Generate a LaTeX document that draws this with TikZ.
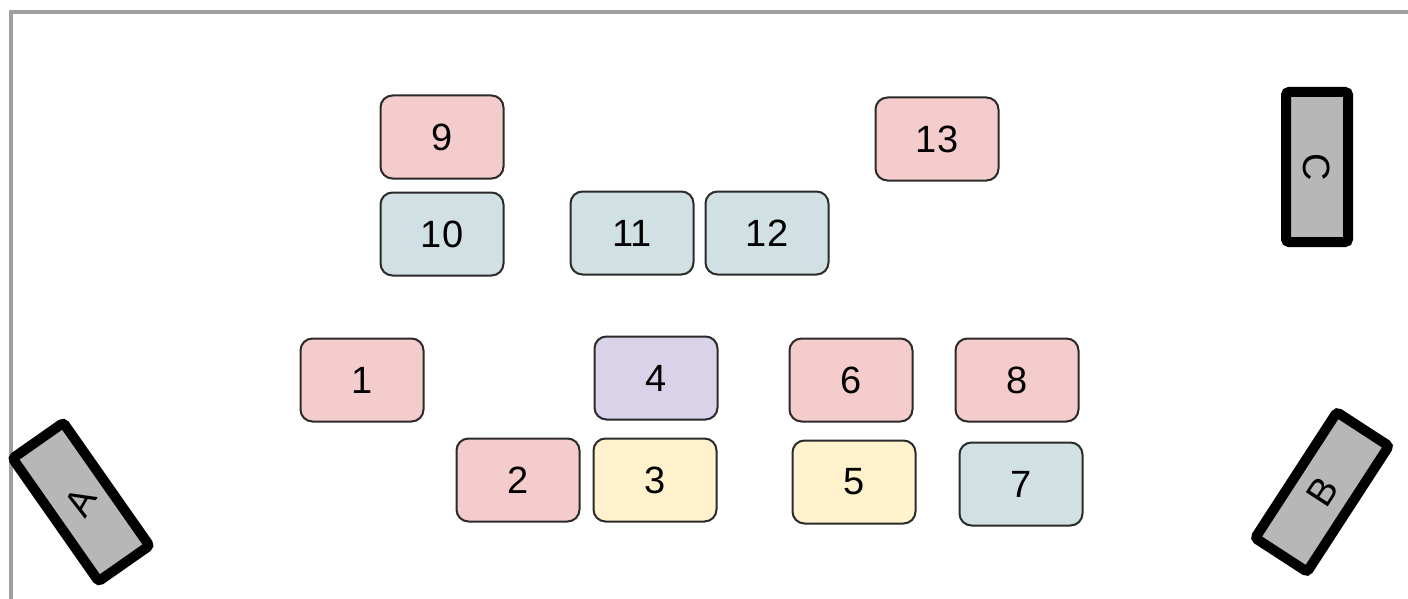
\documentclass[tikz,border=0pt]{standalone}
\usepackage{fontspec}
\setmainfont{Liberation Sans}
\usepackage{xcolor}
\usetikzlibrary{positioning,calc}

\definecolor{seatred}{HTML}{F4CCCC}
\definecolor{seatblue}{HTML}{D0E0E3}
\definecolor{seatpurple}{HTML}{D9D2E9}
\definecolor{seatyellow}{HTML}{FFF2CC}
\definecolor{camgray}{HTML}{B7B7B7}
\definecolor{framegray}{HTML}{A0A0A0}
\definecolor{edgegray}{HTML}{2A2A2A}

\tikzset{
	seat/.style={draw=edgegray,line width=1pt,rounded corners=6pt,minimum width=61.5pt,minimum height=41.5pt,inner sep=0pt,font=\fontsize{19}{23}\selectfont},
	cam/.style={draw=black,fill=camgray,line width=5pt,rounded corners=1.5pt,minimum width=75pt,minimum height=31pt,inner sep=0pt,font=\fontsize{19}{23}\selectfont}
}

\begin{document}
\begin{tikzpicture}[x=0.5pt,y=-0.5pt]
	\useasboundingbox (0,0) rectangle (1408,599);
	\draw[framegray,line width=2pt] (11,599) -- (11,12) -- (1408,12);
	
	\node[seat,fill=seatred] (s9) at (442,137) {9};
	\node[seat,fill=seatred] (s13) at (937,139) {13};
	\node[seat,fill=seatblue] (s10) at (442,234) {10};
	\node[seat,fill=seatblue] (s11) at (632,233) {11};
	\node[seat,fill=seatblue] (s12) at (767,233) {12};
	
	\node[seat,fill=seatred] (s1) at (362,380) {1};
	\node[seat,fill=seatpurple] (s4) at (656,378) {4};
	\node[seat,fill=seatred] (s6) at (851,380) {6};
	\node[seat,fill=seatred] (s8) at (1017,380) {8};
	
	\node[seat,fill=seatred] (s2) at (518,480) {2};
	\node[seat,fill=seatyellow] (s3) at (655,480) {3};
	\node[seat,fill=seatyellow] (s5) at (854,482) {5};
	\node[seat,fill=seatblue] (s7) at (1021,484) {7};
	
	\node[cam,rotate=-55] (camA) at (81,502) {};
	\node[rotate=60,font=\fontsize{19}{23}\selectfont] (labA) at (camA) {A};
	\node[cam,rotate=57] (camB) at (1322,492) {B};
	\node[cam,rotate=-90] (camC) at (1317,167) {C};
\end{tikzpicture}
\end{document}
